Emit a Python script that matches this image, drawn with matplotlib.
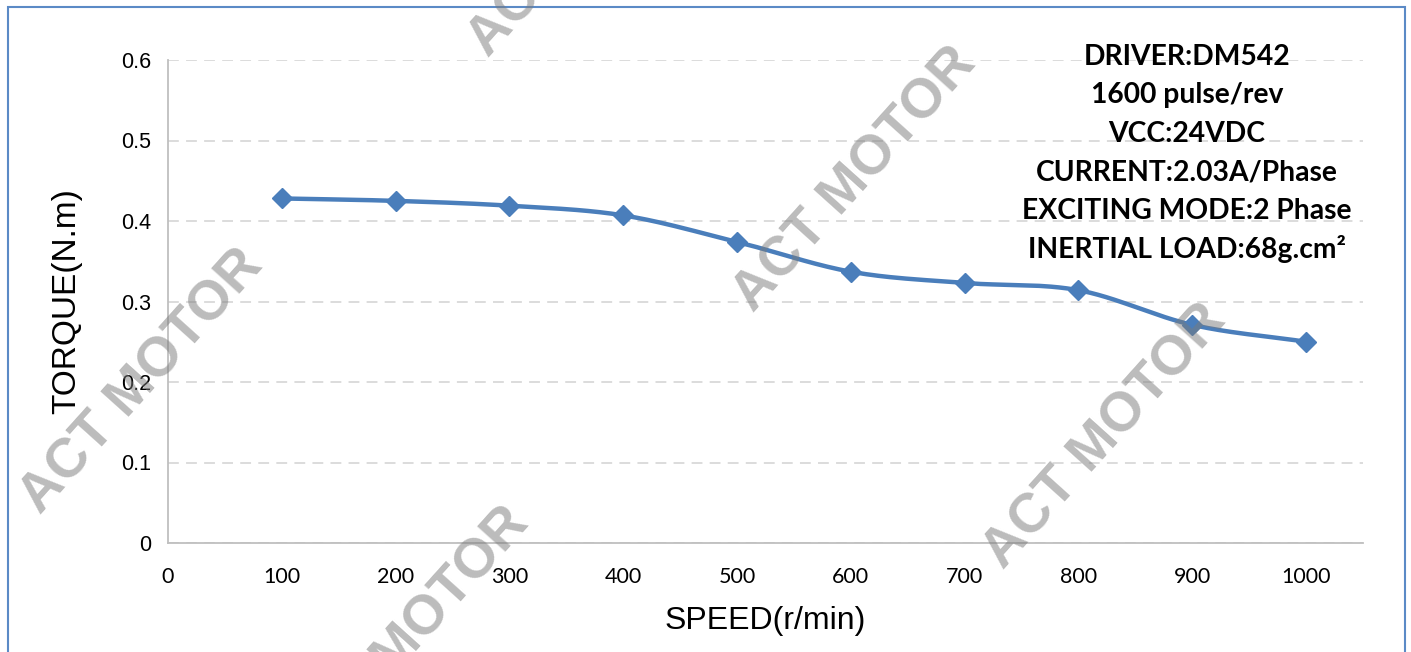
import numpy as np
import matplotlib.pyplot as plt
from matplotlib.patches import Rectangle

speed = [100, 200, 300, 400, 500, 600, 700, 800, 900, 1000]
torque = [0.428, 0.425, 0.419, 0.407, 0.374, 0.337, 0.323, 0.314, 0.271, 0.250]
x_ticks = [0, 100, 200, 300, 400, 500, 600, 700, 800, 900, 1000]
y_ticks = [0, 0.1, 0.2, 0.3, 0.4, 0.5, 0.6]
notes = ["DRIVER:DM542", "1600 pulse/rev", "VCC:24VDC",
         "CURRENT:2.03A/Phase", "EXCITING MODE:2 Phase", "INERTIAL LOAD:68g.cm²"]


def smooth(x, y, n=30):
    # Catmull-Rom curve through the points, like a smoothed Excel line
    x = np.asarray(x, float)
    y = np.asarray(y, float)
    px = np.concatenate([[2 * x[0] - x[1]], x, [2 * x[-1] - x[-2]]])
    py = np.concatenate([[2 * y[0] - y[1]], y, [2 * y[-1] - y[-2]]])
    xs, ys = [], []
    t = np.linspace(0, 1, n)
    for i in range(1, len(px) - 2):
        for p, out in ((px, xs), (py, ys)):
            p0, p1, p2, p3 = p[i - 1], p[i], p[i + 1], p[i + 2]
            out.extend(0.5 * (2 * p1 + (-p0 + p2) * t
                              + (2 * p0 - 5 * p1 + 4 * p2 - p3) * t ** 2
                              + (-p0 + 3 * p1 - 3 * p2 + p3) * t ** 3))
    return xs, ys


fig = plt.figure(figsize=(14.11, 6.52), dpi=100)
ax = fig.add_axes([168 / 1411, 1 - 543 / 652, (1363 - 168) / 1411, (543 - 60) / 652])

ax.set_xlim(0, 1050)
ax.set_ylim(0, 0.6)
ax.set_xticks(x_ticks)
ax.set_xticklabels([str(v) for v in x_ticks], family="Lato", fontsize=15.5)
ax.set_yticks(y_ticks)
ax.set_yticklabels(["0"] + [f"{v:.1f}" for v in y_ticks[1:]], family="Liberation Sans", fontsize=15.5)
ax.tick_params(length=0, pad=12)
ax.tick_params(axis="x", pad=17)
ax.grid(axis="y", color="#d9d9d9", linestyle=(0, (6, 4)), linewidth=1.3)
ax.set_axisbelow(True)
for s in ["top", "right"]:
    ax.spines[s].set_visible(False)
for s in ["left", "bottom"]:
    ax.spines[s].set_color("#bfbfbf")
    ax.spines[s].set_linewidth(1.3)

sx, sy = smooth(speed, torque)
ax.plot(sx, sy, color="#4a7ebb", linewidth=3.2, zorder=3)
ax.plot(speed, torque, linestyle="none", marker="D", markersize=10,
        color="#4a7ebb", zorder=4)

ax.set_xlabel("SPEED(r/min)", family="Liberation Sans", fontsize=23, labelpad=14)
ax.set_ylabel("TORQUE(N.m)", family="Liberation Sans", fontsize=24, labelpad=28)

for i, line in enumerate(notes):
    fig.text(1187 / 1411, 1 - (57 + 38.4 * i) / 652, line, ha="center", va="center",
             family="Lato", fontweight="bold", fontsize=20.3)

# watermarks
for cx, cy in [(855, 180), (142, 382), (1105, 437), (590, -75), (408, 640), (1500, 760)]:
    fig.text(cx / 1411, 1 - cy / 652, "ACT MOTOR", rotation=48, ha="center", va="center",
             rotation_mode="anchor", family="Liberation Sans", fontweight="bold",
             fontsize=40, color="#7a7a7a", alpha=0.5, zorder=10)

fig.patches.append(Rectangle((8 / 1411, -0.05), (1405 - 8) / 1411, 1.05 - 7 / 652,
                             transform=fig.transFigure, fill=False,
                             edgecolor="#5b8ac6", linewidth=1.5))

fig.savefig("out.png", dpi=100)
